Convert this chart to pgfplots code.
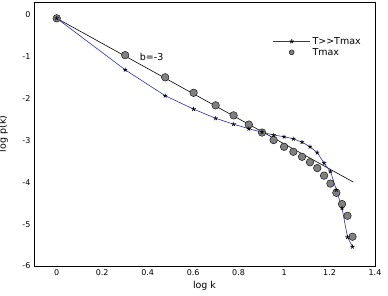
\documentclass[border=0pt]{standalone}
\usepackage{fontspec}
\setmainfont{DejaVu Sans}
\usepackage{pgfplots}
\pgfplotsset{compat=1.18}
\definecolor{lineblue}{RGB}{45,45,175}
\definecolor{dotgray}{RGB}{128,128,128}
\pgfplotsset{
  linelegend/.style={legend image code/.code={\draw[mark repeat=2,mark phase=2,##1] plot coordinates {(0pt,0pt) (18.5pt,0pt) (37pt,0pt)};}},
  dotlegend/.style={legend image code/.code={\draw[##1, mark size=2.5pt] plot coordinates {(18.5pt,0pt)};}},
}
\begin{document}
\begin{tikzpicture}
\useasboundingbox (-34pt,-30pt) rectangle (354pt,266pt);
\begin{axis}[
  at={(0pt,0pt)}, anchor=south west,
  scale only axis, width=341pt, height=264pt,
  xmin=-0.1, xmax=1.4, ymin=-6, ymax=0.31,
  xtick={0,0.2,0.4,0.6,0.8,1,1.2,1.4},
  xticklabels={0,0.2,0.4,0.6,0.8,1,1.2,1.4},
  ytick={-6,-5,-4,-3,-2,-1,0},
  major tick length=0pt,
  tick label style={font=\fontsize{8}{9}\selectfont},
  /pgf/number format/assume math mode=true,
  xlabel={log k}, ylabel={log p(k)},
  label style={font=\fontsize{9.5}{11}\selectfont},
  xlabel style={at={(axis description cs:0.5,0)}, anchor=north, yshift=-12pt},
  ylabel style={at={(axis description cs:-0.066,0.5)}, anchor=south},
  axis line style={black, line width=0.6pt},
  reverse legend,
  legend style={draw=none, fill=none, at={(axis description cs:0.70,0.875)}, anchor=north west,
    font=\fontsize{9.5}{10}\selectfont, inner sep=0pt, row sep=-1.5pt},
  legend cell align=left,
]
\addplot[black, line width=0.6pt, forget plot] coordinates {(0,-0.08) (1.305,-3.995)};
\addplot[only marks, mark=*, mark size=3.8pt, mark options={fill=dotgray, draw=black, line width=0.4pt}, dotlegend]
 coordinates {
 (0,-0.08) (0.301,-0.96) (0.477,-1.49) (0.602,-1.86) (0.699,-2.16)
 (0.778,-2.40) (0.845,-2.62) (0.903,-2.81) (0.954,-2.99) (1.0,-3.15)
 (1.041,-3.27) (1.079,-3.39) (1.114,-3.52) (1.146,-3.66) (1.176,-3.84)
 (1.204,-4.03) (1.230,-4.25) (1.255,-4.52) (1.279,-4.80) (1.301,-5.30)};
\addlegendentry{Tmax}
\addplot[lineblue, line width=0.6pt, mark=star, mark size=2.2pt, mark options={black, line width=0.7pt}, linelegend]
 coordinates {
 (0,-0.08) (0.301,-1.31) (0.477,-1.93) (0.602,-2.25) (0.699,-2.47)
 (0.778,-2.61) (0.845,-2.72) (0.903,-2.80) (0.954,-2.87) (1.0,-2.91)
 (1.041,-2.96) (1.079,-3.04) (1.114,-3.15) (1.146,-3.29) (1.176,-3.54)
 (1.204,-3.74) (1.230,-4.18) (1.255,-4.62) (1.279,-5.31) (1.301,-5.54)};
\addlegendentry{T>{}>Tmax}
\node[anchor=west, font=\fontsize{9.5}{11}\selectfont] at (axis cs:0.35,-1.0) {b=-3};
\end{axis}
\end{tikzpicture}
\end{document}
